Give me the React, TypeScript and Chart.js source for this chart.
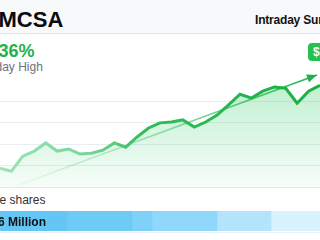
import React, { useEffect, useRef } from "react";
import { Chart, registerables } from "chart.js";

Chart.register(...registerables);

// ---- data ----
const priceValues = [
  41.44, 41.37, 41.72, 41.84, 42.03, 41.84, 41.89, 41.77, 41.79, 41.86,
  42.03, 41.93, 42.17, 42.38, 42.5, 42.52, 42.57, 42.4, 42.52, 42.68,
  42.92, 43.17, 43.08, 43.24, 43.34, 43.31, 42.96, 43.24, 43.38,
];
const trendX = [1.15, 27.73];
const trendY = [41.0, 43.62];
const gridValues = [41.5, 42.0, 42.5, 43.0];
const yMin = 41.0;
const yMax = 43.97;

const volumeBuckets = [6.7, 6.5, 2.0, 6.5, 5.4, 4.9];
const volumeColors = ["#63c6f4", "#6ecbf6", "#7fd1f8", "#90d8fb", "#b4e4fd", "#daf1fe"];

const tickerText = ["C", "MCSA"];
const changeText = ["+1.", "36%"];
const highText = ["Intra", "day High"];
const titleText = "Intraday Summary";
const badgeText = "$43.38";
const sharesText = ["Volum", "e shares"];
const volumeText = ["12.", "6 Million"];

const FONT = '"Liberation Sans", Arial, Helvetica, sans-serif';

function Clipped({ parts, style }: { parts: string[]; style: React.CSSProperties }) {
  return (
    <div style={{ position: "absolute", whiteSpace: "nowrap", lineHeight: 1, ...style }}>
      <span style={{ position: "absolute", right: "100%", top: 0 }}>{parts[0]}</span>
      {parts[1]}
    </div>
  );
}

const arrowPlugin = {
  id: "trendArrow",
  afterDatasetsDraw(chart: any) {
    const meta = chart.getDatasetMeta(1);
    if (!meta || !meta.data || meta.data.length < 2) return;
    const a = meta.data[0];
    const b = meta.data[meta.data.length - 1];
    const ang = Math.atan2(b.y - a.y, b.x - a.x);
    const ctx = chart.ctx;
    const len = 10;
    const half = 4.2;
    ctx.save();
    ctx.translate(b.x, b.y);
    ctx.rotate(ang);
    ctx.beginPath();
    ctx.moveTo(0, 0);
    ctx.lineTo(-len, -half);
    ctx.lineTo(-len, half);
    ctx.closePath();
    ctx.fillStyle = "#1fb24a";
    ctx.fill();
    ctx.restore();
  },
};

function PriceChart() {
  const ref = useRef<HTMLCanvasElement>(null);
  useEffect(() => {
    const canvas = ref.current!;
    const ctx = canvas.getContext("2d")!;
    const W = canvas.width;
    const H = canvas.height;
    const stroke = ctx.createLinearGradient(0, 0, W, 0);
    stroke.addColorStop(0, "#9fe4b8");
    stroke.addColorStop(0.28, "#74d698");
    stroke.addColorStop(0.45, "#2fbe58");
    stroke.addColorStop(1, "#1aae45");
    const fill = ctx.createLinearGradient(0, 20, 0, H);
    fill.addColorStop(0, "rgba(40,200,95,0.30)");
    fill.addColorStop(1, "rgba(40,200,95,0.04)");
    const trend = ctx.createLinearGradient(0, 0, W, 0);
    trend.addColorStop(0, "rgba(34,190,90,0)");
    trend.addColorStop(0.4, "rgba(34,190,90,0.35)");
    trend.addColorStop(1, "rgba(30,178,74,1)");

    const chart = new Chart(canvas, {
      type: "line",
      data: {
        datasets: [
          {
            data: priceValues.map((v, i) => ({ x: i, y: v })),
            borderColor: stroke,
            backgroundColor: fill,
            borderWidth: 3,
            fill: "start",
            pointRadius: 0,
            tension: 0,
          },
          {
            data: trendX.map((x, i) => ({ x, y: trendY[i] })),
            borderColor: trend,
            borderWidth: 1.6,
            fill: false,
            pointRadius: 0,
          },
        ],
      },
      options: {
        animation: false,
        responsive: false,
        layout: { padding: 0 },
        plugins: { legend: { display: false }, tooltip: { enabled: false } },
        scales: {
          x: { type: "linear", display: false, min: 0, max: priceValues.length - 1 },
          y: {
            display: true,
            min: yMin,
            max: yMax,
            ticks: { display: false, stepSize: 0.5 },
            grid: {
              drawTicks: false,
              lineWidth: 1,
              color: (c: any) =>
                gridValues.some((g) => Math.abs(g - c.tick.value) < 1e-6) ? "#e8edf3" : "rgba(0,0,0,0)",
            },
            border: { display: false },
          },
        },
      },
      plugins: [arrowPlugin],
    });
    return () => chart.destroy();
  }, []);
  return <canvas ref={ref} width={320} height={127} style={{ display: "block" }} />;
}

function VolumeStrip() {
  const ref = useRef<HTMLCanvasElement>(null);
  useEffect(() => {
    const total = volumeBuckets.reduce((a, b) => a + b, 0);
    const chart = new Chart(ref.current!, {
      type: "bar",
      data: {
        labels: ["vol"],
        datasets: volumeBuckets.map((v, i) => ({
          data: [v],
          backgroundColor: volumeColors[i],
          borderWidth: 0,
          barPercentage: 1,
          categoryPercentage: 1,
        })),
      },
      options: {
        indexAxis: "y",
        animation: false,
        responsive: false,
        layout: { padding: 0 },
        plugins: { legend: { display: false }, tooltip: { enabled: false } },
        scales: {
          x: { stacked: true, display: false, min: 0, max: total },
          y: { stacked: true, display: false },
        },
      },
    });
    return () => chart.destroy();
  }, []);
  return <canvas ref={ref} width={320} height={20} style={{ display: "block" }} />;
}

export default function App() {
  return (
    <div
      style={{
        position: "fixed",
        left: 0,
        top: 0,
        width: 320,
        height: 240,
        overflow: "hidden",
        background: "#ffffff",
        fontFamily: FONT,
      }}
    >
      <div style={{ position: "absolute", left: 0, top: 0, width: 320, height: 33, background: "#f8f9fb" }} />
      <div style={{ position: "absolute", left: 0, top: 33, width: 320, height: 1, background: "#e2e5ea" }} />

      <Clipped parts={tickerText} style={{ left: -1.5, top: 9.4, fontSize: 22, fontWeight: 700, color: "#0b0b0c" }} />
      <div
        style={{
          position: "absolute",
          left: 255,
          top: 13.8,
          fontSize: 12,
          fontWeight: 700,
          letterSpacing: -0.2,
          lineHeight: 1,
          whiteSpace: "nowrap",
          color: "#111111",
        }}
      >
        {titleText}
      </div>

      <Clipped parts={changeText} style={{ left: -1.5, top: 41.8, fontSize: 18, fontWeight: 700, color: "#22b24b" }} />
      <Clipped parts={highText} style={{ left: -4.5, top: 60.8, fontSize: 12, color: "#6b7280" }} />

      <div
        style={{
          position: "absolute",
          left: 308,
          top: 43,
          height: 18,
          lineHeight: "18px",
          padding: "0 4px 0 5px",
          borderRadius: 4,
          background: "#27bf4f",
          color: "#ffffff",
          fontSize: 12,
          fontWeight: 700,
          whiteSpace: "nowrap",
        }}
      >
        {badgeText}
      </div>

      <div style={{ position: "absolute", left: 0, top: 60, width: 320, height: 127 }}>
        <PriceChart />
      </div>
      <div style={{ position: "absolute", left: 0, top: 187, width: 320, height: 1, background: "#e4e7ec" }} />

      <Clipped parts={sharesText} style={{ left: -0.5, top: 193.8, fontSize: 12, color: "#333333" }} />

      <div style={{ position: "absolute", left: 0, top: 211, width: 320, height: 20 }}>
        <VolumeStrip />
      </div>
      <div style={{ position: "absolute", left: 0, top: 232, width: 320, height: 1, background: "#eef1f4" }} />
      <Clipped parts={volumeText} style={{ left: -2, top: 215.8, fontSize: 12, fontWeight: 700, color: "#111111" }} />
    </div>
  );
}
